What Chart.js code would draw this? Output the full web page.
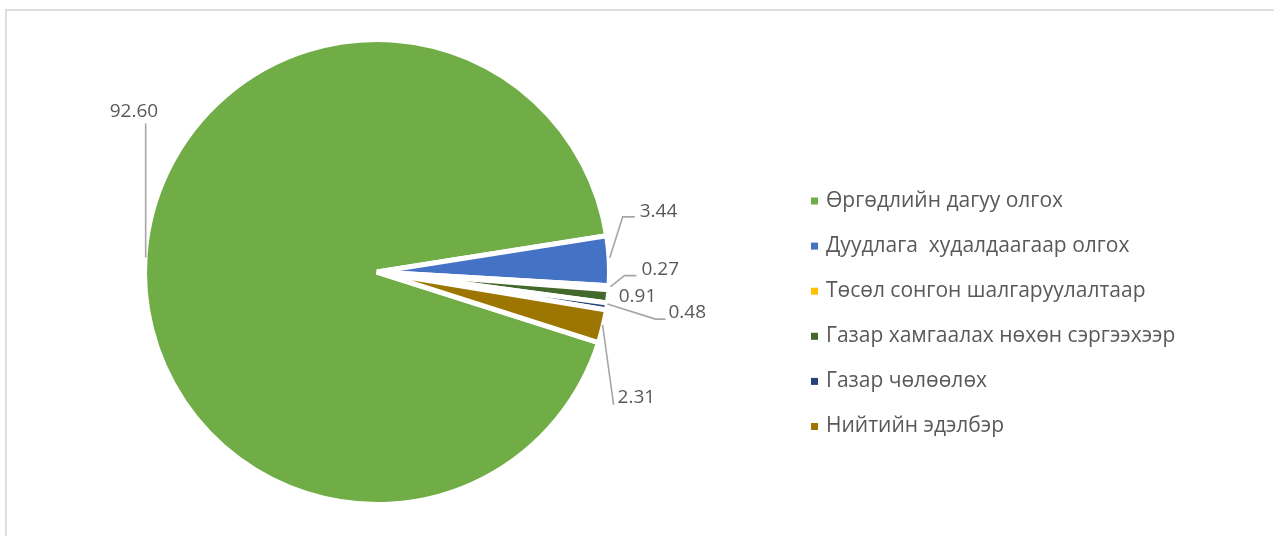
<!DOCTYPE html>
<html>
<head>
<meta charset="utf-8">
<script src="https://cdn.jsdelivr.net/npm/chart.js@4"></script>
<style>
  body { margin: 0; background: #fff; }
  #wrap { position: relative; width: 1274px; height: 536px; overflow: hidden; }
  #frame { position: absolute; left: 5px; top: 9px; width: 1300px; height: 600px; border-top: 2px solid #dedede; border-left: 2px solid #dedede; }
  canvas { position: absolute; left: 0; top: 0; }
</style>
</head>
<body>
<div id="wrap">
  <div id="frame"></div>
  <canvas id="myChart" width="1274" height="536"></canvas>
</div>
<script>
const labels = [
  'Өргөдлийн дагуу олгох',
  'Дуудлага  худалдаагаар олгох',
  'Төсөл сонгон шалгаруулалтаар',
  'Газар хамгаалах нөхөн сэргээхээр',
  'Газар чөлөөлөх',
  'Нийтийн эдэлбэр'
];
const values = [92.60, 3.44, 0.27, 0.91, 0.48, 2.31];
const valueLabels = ['92.60', '3.44', '0.27', '0.91', '0.48', '2.31'];
const colors = ['#70AD47', '#4472C4', '#FFC000', '#43682B', '#264478', '#9C7600'];

// where each value label sits, relative to the slice's anchor on the rim
// text: [dx of text left, dy of text middle], line: leader points
const labelPlace = [
  { text: [-38, -143], line: [[-2, 3], [-2, -131]] },
  { text: [33, -49], line: [[3, -3], [16, -44], [28, -44]] },
  { text: [35, -18], line: [[4, -1], [18, -12], [30, -12]] },
  { text: [13, 0], line: [] },
  { text: [64, 7], line: [[3, -2], [51, 13], [61, 13]] },
  { text: [17, 72], line: [[2, -1], [13, 79]] }
];

const textColor = '#595959';

const pieLabels = {
  id: 'pieLabels',
  afterDatasetsDraw(chart) {
    const c = chart.ctx;
    const arcs = chart.getDatasetMeta(0).data;
    c.save();
    c.font = '19px "Open Sans", sans-serif';
    c.fillStyle = textColor;
    c.textBaseline = 'middle';
    c.textAlign = 'left';
    c.strokeStyle = '#A6A6A6';
    c.lineWidth = 1.6;
    arcs.forEach((arc, i) => {
      const mid = (arc.startAngle + arc.endAngle) / 2;
      const r = arc.outerRadius - 2.5;
      const ax = arc.x + Math.cos(mid) * r;
      const ay = arc.y + Math.sin(mid) * r;
      const p = labelPlace[i];
      if (p.line.length) {
        c.beginPath();
        p.line.forEach((pt, k) => {
          if (k === 0) c.moveTo(ax + pt[0], ay + pt[1]);
          else c.lineTo(ax + pt[0], ay + pt[1]);
        });
        c.stroke();
      }
      c.fillText(valueLabels[i], ax + p.text[0], ay + p.text[1]);
    });

    // legend
    c.font = '21px "Open Sans", sans-serif';
    labels.forEach((lab, i) => {
      const y = 201 + i * 45.1;
      c.fillStyle = colors[i];
      c.fillRect(811, y - 3.5, 7, 7);
      c.fillStyle = textColor;
      c.fillText(lab, 826, y);
    });
    c.restore();
  }
};

new Chart(document.getElementById('myChart'), {
  type: 'pie',
  data: {
    labels: labels,
    datasets: [{
      data: values,
      backgroundColor: colors,
      borderColor: '#ffffff',
      borderWidth: 5,
      hoverBorderWidth: 5,
      offset: 0,
      hoverOffset: 0
    }]
  },
  options: {
    responsive: false,
    animation: false,
    rotation: 107.7,
    layout: { padding: { left: 142, top: 37, right: 662, bottom: 29 } },
    plugins: {
      legend: { display: false },
      tooltip: { enabled: false }
    },
    events: []
  },
  plugins: [pieLabels]
});
</script>
</body>
</html>
